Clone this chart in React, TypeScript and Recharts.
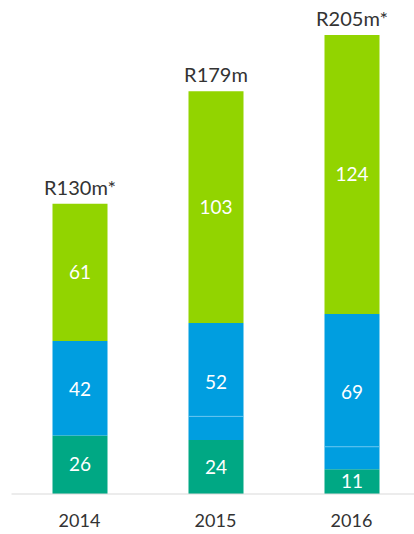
import React from 'react';
import { BarChart, Bar, XAxis, YAxis, LabelList } from 'recharts';

const years = ['2014', '2015', '2016'];
const darkGreen = [26, 24, 11];
const blueLower = [0, 10.5, 10];
const blueUpper = [42, 41.5, 59];
const blueTotals = [42, 52, 69];
const lime = [61, 103, 124];
const totalLabels = ['R130m*', 'R179m', 'R205m*'];

const data = years.map((year, i) => ({
  year,
  darkGreen: darkGreen[i],
  blueLower: blueLower[i],
  blueUpper: blueUpper[i],
  lime: lime[i],
}));

const font = 'Lato, "Open Sans", sans-serif';

// blue is drawn as two pieces; put its label in the middle of both
const BlueLabel = (props: any) => {
  const { x, y, width, height, index } = props;
  const lowerH = (height / blueUpper[index]) * blueLower[index];
  return (
    <text
      x={x + width / 2}
      y={y + (height + lowerH) / 2}
      fill="#fff"
      fontSize={19}
      fontFamily={font}
      textAnchor="middle"
      dominantBaseline="central"
    >
      {blueTotals[index]}
    </text>
  );
};

// upper blue piece with a faint seam where it meets the lower piece
const BlueUpperShape = (props: any) => {
  const { x, y, width, height, index, fill } = props;
  return (
    <g>
      <rect x={x} y={y} width={width} height={height} fill={fill} />
      {blueLower[index] > 0 && (
        <line x1={x} x2={x + width} y1={y + height} y2={y + height} stroke="#62c3ef" strokeWidth={1} />
      )}
    </g>
  );
};

const TotalLabel = (props: any) => {
  const { x, y, width, index } = props;
  return (
    <text
      x={x + width / 2}
      y={y - 17}
      fill="#333"
      fontSize={20}
      fontFamily={font}
      textAnchor="middle"
      dominantBaseline="central"
    >
      {totalLabels[index]}
    </text>
  );
};

const App: React.FC = () => {
  return (
    <div style={{ position: 'absolute', left: 0, top: 0, width: 414, height: 534, overflow: 'hidden', background: '#fff' }}>
      <BarChart
        width={420}
        height={534}
        data={data}
        margin={{ top: 21.5, right: 0.5, left: 11.5, bottom: 10 }}
        barSize={55}
      >
        <XAxis
          dataKey="year"
          height={30}
          axisLine={{ stroke: '#d9d9d9' }}
          tickLine={false}
          tick={{ fill: '#333', fontSize: 18, fontFamily: font }}
          tickMargin={14}
        />
        <YAxis hide domain={[0, 210]} allowDataOverflow />
        <Bar dataKey="darkGreen" stackId="a" fill="#00a884" isAnimationActive={false}>
          <LabelList dataKey="darkGreen" position="center" fill="#fff" fontSize={19} fontFamily={font} />
        </Bar>
        <Bar dataKey="blueLower" stackId="a" fill="#009ee0" isAnimationActive={false} />
        <Bar dataKey="blueUpper" stackId="a" fill="#009ee0" shape={BlueUpperShape} isAnimationActive={false}>
          <LabelList dataKey="blueUpper" content={BlueLabel} />
        </Bar>
        <Bar dataKey="lime" stackId="a" fill="#92d400" isAnimationActive={false}>
          <LabelList dataKey="lime" position="center" fill="#fff" fontSize={19} fontFamily={font} />
          <LabelList dataKey="lime" content={TotalLabel} />
        </Bar>
      </BarChart>
    </div>
  );
};

export default App;
